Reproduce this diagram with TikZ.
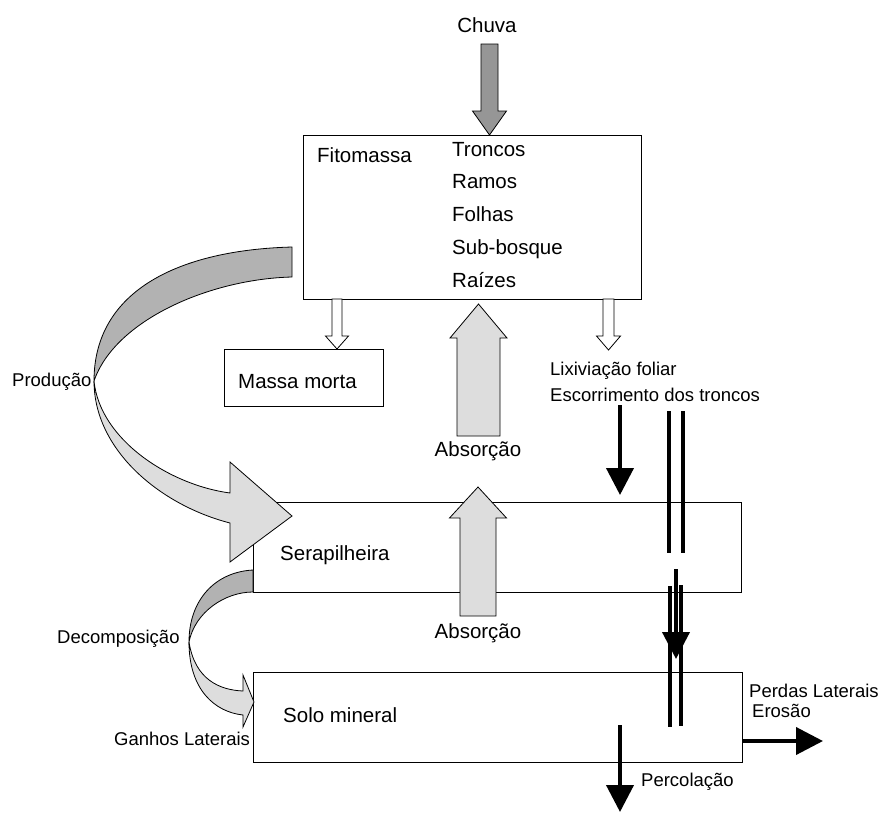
\documentclass[tikz,border=0pt]{standalone}
\usepackage{fontspec}
\setmainfont{Liberation Sans}
\usetikzlibrary{arrows.meta,positioning,calc}
\definecolor{rainfill}{RGB}{150,150,150}
\definecolor{backfill}{RGB}{178,178,178}
\definecolor{frontfill}{RGB}{221,221,221}

% block arrow: style, tail, tip, half shaft, half head, head length
\newcommand{\blockarrow}[6]{%
  \coordinate (ba-base) at ($(#3)!#6!(#2)$);
  \draw[#1] ($(#2)!#4!90:(#3)$) -- ($(ba-base)!#4!90:(#3)$) -- ($(ba-base)!#5!90:(#3)$)
    -- (#3) -- ($(ba-base)!#5!-90:(#3)$) -- ($(ba-base)!#4!-90:(#3)$) -- ($(#2)!#4!-90:(#3)$) -- cycle;
}

\begin{document}
\begin{tikzpicture}[
    x=1pt, y=-1pt,
    compbox/.style={rectangle, draw=black, line width=1pt, inner sep=0pt, outer sep=0pt, anchor=north west},
    bigtxt/.style={font=\fontsize{20.5}{24}\selectfont, inner sep=0pt, anchor=base west},
    smalltxt/.style={font=\fontsize{18.5}{22}\selectfont, inner sep=0pt, anchor=base west},
    flowarr/.style={-{Triangle[length=27pt, width=27pt]}, line width=4pt, black},
    barline/.style={line width=4pt, black},
    rainarr/.style={draw=black, line width=0.8pt, fill=rainfill},
    hollowarr/.style={draw=black, line width=0.8pt, fill=white},
    uptakearr/.style={draw=black, line width=0.8pt, fill=frontfill},
    ribbonback/.style={draw=black, line width=0.8pt, fill=backfill},
    ribbonfront/.style={draw=black, line width=0.8pt, fill=frontfill}
]
\useasboundingbox (0,0) rectangle (881,812);

% compartments
\node[compbox, minimum width=338pt, minimum height=164pt] (fito) at (303,135) {};
\node[compbox, minimum width=159pt, minimum height=57pt] (morta) at (224,349) {};
\node[compbox, minimum width=488pt, minimum height=90pt] (sera) at (253,502) {};
\node[compbox, minimum width=489pt, minimum height=90pt] (solo) at (253,672) {};

\node[bigtxt] (fitolbl) at (317,162) {Fitomassa};
\node[bigtxt] (tron) at (452,156) {Troncos};
\node[bigtxt, below=32.75pt of tron.base west, anchor=base west] (ramo) {Ramos};
\node[bigtxt, below=32.75pt of ramo.base west, anchor=base west] (folh) {Folhas};
\node[bigtxt, below=32.75pt of folh.base west, anchor=base west] (subb) {Sub-bosque};
\node[bigtxt, below=32.75pt of subb.base west, anchor=base west] (raiz) {Raízes};
\node[bigtxt] (mortalbl) at (238,388) {Massa morta};
\node[bigtxt] (seralbl) at (280,560) {Serapilheira};
\node[bigtxt] (sololbl) at (283,722) {Solo mineral};

% flow labels
\node[bigtxt, anchor=base] (chuva) at (487,32) {Chuva};
\node[smalltxt] (prod) at (12,386) {Produção};
\node[smalltxt] (decomp) at (57,643) {Decomposição};
\node[smalltxt] (ganhos) at (114,745) {Ganhos Laterais};
\node[bigtxt, anchor=base] (abs1) at (478,456) {Absorção};
\node[bigtxt, anchor=base] (abs2) at (478,638) {Absorção};
\node[smalltxt] (lix) at (550,375) {Lixiviação foliar};
\node[smalltxt, below=26pt of lix.base west, anchor=base west] (escor) {Escorrimento dos troncos};
\node[smalltxt] (perdas) at (749,697) {Perdas Laterais};
\node[smalltxt, below=20pt of perdas.base west, anchor=base west, xshift=3pt] (eros) {Erosão};
\node[smalltxt] (perc) at (641,786) {Percolação};

% free ends
\coordinate (raintail) at (489.5,44);
\coordinate (raintip) at (489.5,135);
\coordinate (deadtail) at (337,299);
\coordinate (deadtip) at (337,349);
\coordinate (leachtail) at (608.5,299);
\coordinate (leachtip) at (608.5,350);
\coordinate (up1tail) at (478.5,436);
\coordinate (up1tip) at (478.5,304);
\coordinate (up2tail) at (478,616);
\coordinate (up2tip) at (478,487);
\coordinate (thrutop) at (620,405);
\coordinate (thrutip) at (620,495);
\coordinate (stemtop) at (676,569);
\coordinate (stemtip) at (676,659);
\coordinate (perctop) at (620,725);
\coordinate (perctip) at (620,812);
\coordinate (losstip) at (823,741);

% block arrows
\blockarrow{rainarr}{raintail}{raintip}{8.5pt}{17pt}{24pt}
\blockarrow{hollowarr}{deadtail}{deadtip}{5pt}{11.5pt}{13pt}
\blockarrow{hollowarr}{leachtail}{leachtip}{5.5pt}{12pt}{14pt}
\blockarrow{uptakearr}{up1tail}{up1tip}{21.5pt}{28.5pt}{34pt}
\blockarrow{uptakearr}{up2tail}{up2tip}{18pt}{28.5pt}{31pt}

% Producao ribbon
\filldraw[ribbonback] (292,247) .. controls (180,250) and (94,290) .. (94,381)
  .. controls (115,320) and (210,279) .. (292,277) -- cycle;
\filldraw[ribbonfront] (94,381) .. controls (94,450) and (160,505) .. (230,523)
  -- (230,562) -- (292,516) -- (230,462) -- (230,493)
  .. controls (170,485) and (100,440) .. (94,381) -- cycle;

% Decomposicao ribbon
\filldraw[ribbonback] (253,570) .. controls (215,572) and (189,600) .. (189,642)
  .. controls (195,612) and (225,592) .. (253,592) -- cycle;
\filldraw[ribbonfront] (189,642) .. controls (189,690) and (215,712) .. (243,715)
  -- (243,727) -- (254,702) -- (243,675) -- (243,691)
  .. controls (220,690) and (195,680) .. (189,642) -- cycle;

% black flows
\draw[flowarr] (thrutop) -- (thrutip);
\draw[barline] (669,411) -- (669,553);
\draw[barline] (683,411) -- (683,553);
\draw[flowarr] (stemtop) -- (stemtip);
\draw[barline] (670,586) -- (670,727);
\draw[barline] (681,585) -- (681,726);
\draw[flowarr] (perctop) -- (perctip);
\draw[flowarr] (solo.east |- losstip) -- (losstip);
\end{tikzpicture}
\end{document}
